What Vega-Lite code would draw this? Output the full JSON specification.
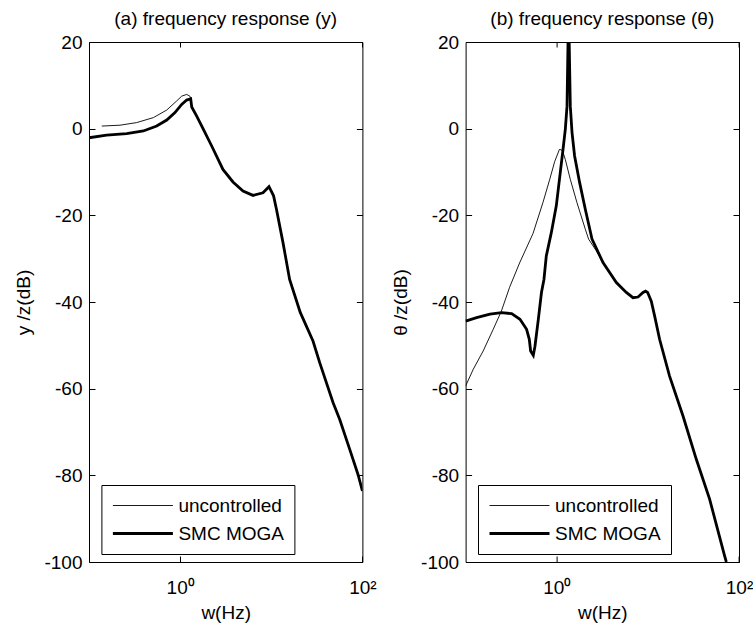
{
  "$schema": "https://vega.github.io/schema/vega-lite/v6.json",
  "padding": {"left": 14, "top": 9, "right": 0, "bottom": 0},
  "background": "white",
  "bounds": "flush",
  "spacing": 102.6,
  "config": {
    "font": "Liberation Sans",
    "view": {"stroke": "black", "strokeWidth": 1},
    "axis": {
      "grid": false,
      "domain": false,
      "labelFontSize": 19,
      "titleFontSize": 19,
      "labelColor": "black",
      "titleColor": "black",
      "titleFontWeight": "normal",
      "tickColor": "black",
      "tickWidth": 1,
      "tickSize": -6,
      "labelPadding": 13
    },
    "axisX": {"labelPadding": 22, "titlePadding": 6, "labelFlush": false},
    "axisY": {"titlePadding": 10},
    "title": {"fontSize": 19, "fontWeight": "normal", "color": "black", "offset": 4},
    "legend": {
      "orient": "none",
      "legendX": 12.4,
      "legendY": 443,
      "direction": "vertical",
      "symbolType": "M-3,0H3",
      "symbolSize": 400,
      "symbolOffset": 20,
      "symbolStrokeColor": "black",
      "labelFontSize": 19,
      "labelColor": "black",
      "labelOffset": 24,
      "labelLimit": 300,
      "strokeColor": "black",
      "fillColor": "white",
      "padding": 10,
      "rowPadding": 6
    }
  },
  "resolve": {"legend": {"strokeWidth": "independent"}, "scale": {"strokeWidth": "independent"}},
  "datasets": {
    "a": [
      {"series": "uncontrolled", "f": 0.138, "dB": 0.6},
      {"series": "uncontrolled", "f": 0.219, "dB": 0.8},
      {"series": "uncontrolled", "f": 0.333, "dB": 1.4},
      {"series": "uncontrolled", "f": 0.509, "dB": 2.55},
      {"series": "uncontrolled", "f": 0.713, "dB": 4.3},
      {"series": "uncontrolled", "f": 0.917, "dB": 6.4},
      {"series": "uncontrolled", "f": 1.04, "dB": 7.5},
      {"series": "uncontrolled", "f": 1.18, "dB": 7.9},
      {"series": "uncontrolled", "f": 1.28, "dB": 7.5},
      {"series": "uncontrolled", "f": 1.306, "dB": 6.9},
      {"series": "uncontrolled", "f": 1.34, "dB": 5.0},
      {"series": "uncontrolled", "f": 1.52, "dB": 2.9},
      {"series": "uncontrolled", "f": 1.8, "dB": -0.15},
      {"series": "uncontrolled", "f": 2.22, "dB": -4.0},
      {"series": "uncontrolled", "f": 2.95, "dB": -9.4},
      {"series": "uncontrolled", "f": 3.8, "dB": -12.3},
      {"series": "uncontrolled", "f": 4.9, "dB": -14.4},
      {"series": "uncontrolled", "f": 6.31, "dB": -15.4},
      {"series": "uncontrolled", "f": 8.11, "dB": -14.8},
      {"series": "uncontrolled", "f": 9.44, "dB": -13.4},
      {"series": "uncontrolled", "f": 10.6, "dB": -15.5},
      {"series": "uncontrolled", "f": 11.4, "dB": -18.6},
      {"series": "uncontrolled", "f": 13.45, "dB": -26.3},
      {"series": "uncontrolled", "f": 15.9, "dB": -34.8},
      {"series": "uncontrolled", "f": 20.8, "dB": -42.4},
      {"series": "uncontrolled", "f": 28.7, "dB": -49.0},
      {"series": "uncontrolled", "f": 34.0, "dB": -54.0},
      {"series": "uncontrolled", "f": 47.6, "dB": -63.2},
      {"series": "uncontrolled", "f": 56.4, "dB": -67.1},
      {"series": "uncontrolled", "f": 72.6, "dB": -74.0},
      {"series": "uncontrolled", "f": 89.5, "dB": -79.8},
      {"series": "uncontrolled", "f": 100, "dB": -83.6},
      {"series": "SMC MOGA", "f": 0.1, "dB": -2.1},
      {"series": "SMC MOGA", "f": 0.156, "dB": -1.5},
      {"series": "SMC MOGA", "f": 0.259, "dB": -1.15},
      {"series": "SMC MOGA", "f": 0.395, "dB": -0.54},
      {"series": "SMC MOGA", "f": 0.553, "dB": 0.6},
      {"series": "SMC MOGA", "f": 0.713, "dB": 2.0},
      {"series": "SMC MOGA", "f": 0.878, "dB": 3.7},
      {"series": "SMC MOGA", "f": 1.04, "dB": 5.6},
      {"series": "SMC MOGA", "f": 1.18, "dB": 6.6},
      {"series": "SMC MOGA", "f": 1.306, "dB": 6.9},
      {"series": "SMC MOGA", "f": 1.34, "dB": 5.0},
      {"series": "SMC MOGA", "f": 1.52, "dB": 2.9},
      {"series": "SMC MOGA", "f": 1.8, "dB": -0.15},
      {"series": "SMC MOGA", "f": 2.22, "dB": -4.0},
      {"series": "SMC MOGA", "f": 2.95, "dB": -9.4},
      {"series": "SMC MOGA", "f": 3.8, "dB": -12.3},
      {"series": "SMC MOGA", "f": 4.9, "dB": -14.4},
      {"series": "SMC MOGA", "f": 6.31, "dB": -15.4},
      {"series": "SMC MOGA", "f": 8.11, "dB": -14.8},
      {"series": "SMC MOGA", "f": 9.44, "dB": -13.4},
      {"series": "SMC MOGA", "f": 10.6, "dB": -15.5},
      {"series": "SMC MOGA", "f": 11.4, "dB": -18.6},
      {"series": "SMC MOGA", "f": 13.45, "dB": -26.3},
      {"series": "SMC MOGA", "f": 15.9, "dB": -34.8},
      {"series": "SMC MOGA", "f": 20.8, "dB": -42.4},
      {"series": "SMC MOGA", "f": 28.7, "dB": -49.0},
      {"series": "SMC MOGA", "f": 34.0, "dB": -54.0},
      {"series": "SMC MOGA", "f": 47.6, "dB": -63.2},
      {"series": "SMC MOGA", "f": 56.4, "dB": -67.1},
      {"series": "SMC MOGA", "f": 72.6, "dB": -74.0},
      {"series": "SMC MOGA", "f": 89.5, "dB": -79.8},
      {"series": "SMC MOGA", "f": 100, "dB": -83.6}
    ],
    "b": [
      {"series": "uncontrolled", "f": 0.1, "dB": -59.4},
      {"series": "uncontrolled", "f": 0.1215, "dB": -55.5},
      {"series": "uncontrolled", "f": 0.156, "dB": -51.3},
      {"series": "uncontrolled", "f": 0.201, "dB": -46.3},
      {"series": "uncontrolled", "f": 0.247, "dB": -42.1},
      {"series": "uncontrolled", "f": 0.304, "dB": -36.6},
      {"series": "uncontrolled", "f": 0.391, "dB": -31.0},
      {"series": "uncontrolled", "f": 0.549, "dB": -24.2},
      {"series": "uncontrolled", "f": 0.707, "dB": -17.0},
      {"series": "uncontrolled", "f": 0.835, "dB": -11.8},
      {"series": "uncontrolled", "f": 0.949, "dB": -7.6},
      {"series": "uncontrolled", "f": 1.07, "dB": -4.8},
      {"series": "uncontrolled", "f": 1.13, "dB": -4.9},
      {"series": "uncontrolled", "f": 1.16, "dB": -5.2},
      {"series": "uncontrolled", "f": 1.242, "dB": -7.1},
      {"series": "uncontrolled", "f": 1.409, "dB": -11.7},
      {"series": "uncontrolled", "f": 1.669, "dB": -17.1},
      {"series": "uncontrolled", "f": 2.058, "dB": -23.2},
      {"series": "uncontrolled", "f": 2.237, "dB": -25.5},
      {"series": "uncontrolled", "f": 2.7, "dB": -28.1},
      {"series": "uncontrolled", "f": 3.22, "dB": -30.9},
      {"series": "uncontrolled", "f": 4.51, "dB": -35.5},
      {"series": "uncontrolled", "f": 5.8, "dB": -37.8},
      {"series": "uncontrolled", "f": 6.87, "dB": -39.0},
      {"series": "uncontrolled", "f": 7.8, "dB": -38.85},
      {"series": "uncontrolled", "f": 8.85, "dB": -37.8},
      {"series": "uncontrolled", "f": 9.44, "dB": -37.5},
      {"series": "uncontrolled", "f": 9.94, "dB": -37.8},
      {"series": "uncontrolled", "f": 10.9, "dB": -39.8},
      {"series": "uncontrolled", "f": 11.86, "dB": -43.2},
      {"series": "uncontrolled", "f": 13.45, "dB": -48.6},
      {"series": "uncontrolled", "f": 17.3, "dB": -57.1},
      {"series": "uncontrolled", "f": 24.3, "dB": -66.3},
      {"series": "uncontrolled", "f": 34.0, "dB": -76.3},
      {"series": "uncontrolled", "f": 47.6, "dB": -85.5},
      {"series": "uncontrolled", "f": 69.5, "dB": -98.6},
      {"series": "uncontrolled", "f": 72.6, "dB": -100},
      {"series": "SMC MOGA", "f": 0.1, "dB": -44.4},
      {"series": "SMC MOGA", "f": 0.132, "dB": -43.6},
      {"series": "SMC MOGA", "f": 0.185, "dB": -42.8},
      {"series": "SMC MOGA", "f": 0.248, "dB": -42.45},
      {"series": "SMC MOGA", "f": 0.32, "dB": -42.7},
      {"series": "SMC MOGA", "f": 0.395, "dB": -44.0},
      {"series": "SMC MOGA", "f": 0.467, "dB": -46.3},
      {"series": "SMC MOGA", "f": 0.5, "dB": -48.6},
      {"series": "SMC MOGA", "f": 0.517, "dB": -51.3},
      {"series": "SMC MOGA", "f": 0.553, "dB": -52.3},
      {"series": "SMC MOGA", "f": 0.577, "dB": -50.2},
      {"series": "SMC MOGA", "f": 0.628, "dB": -44.0},
      {"series": "SMC MOGA", "f": 0.68, "dB": -37.8},
      {"series": "SMC MOGA", "f": 0.724, "dB": -34.8},
      {"series": "SMC MOGA", "f": 0.768, "dB": -29.4},
      {"series": "SMC MOGA", "f": 0.872, "dB": -24.0},
      {"series": "SMC MOGA", "f": 0.989, "dB": -17.8},
      {"series": "SMC MOGA", "f": 1.094, "dB": -10.1},
      {"series": "SMC MOGA", "f": 1.172, "dB": -4.8},
      {"series": "SMC MOGA", "f": 1.242, "dB": -0.15},
      {"series": "SMC MOGA", "f": 1.297, "dB": 5.2},
      {"series": "SMC MOGA", "f": 1.33, "dB": 20},
      {"series": "SMC MOGA", "f": 1.37, "dB": 20},
      {"series": "SMC MOGA", "f": 1.409, "dB": 5.2},
      {"series": "SMC MOGA", "f": 1.472, "dB": -0.9},
      {"series": "SMC MOGA", "f": 1.571, "dB": -6.3},
      {"series": "SMC MOGA", "f": 1.782, "dB": -12.4},
      {"series": "SMC MOGA", "f": 2.058, "dB": -18.6},
      {"series": "SMC MOGA", "f": 2.438, "dB": -25.5},
      {"series": "SMC MOGA", "f": 3.22, "dB": -30.9},
      {"series": "SMC MOGA", "f": 4.51, "dB": -35.5},
      {"series": "SMC MOGA", "f": 5.8, "dB": -37.8},
      {"series": "SMC MOGA", "f": 6.87, "dB": -39.0},
      {"series": "SMC MOGA", "f": 7.8, "dB": -38.85},
      {"series": "SMC MOGA", "f": 8.85, "dB": -37.8},
      {"series": "SMC MOGA", "f": 9.44, "dB": -37.5},
      {"series": "SMC MOGA", "f": 9.94, "dB": -37.8},
      {"series": "SMC MOGA", "f": 10.9, "dB": -39.8},
      {"series": "SMC MOGA", "f": 11.86, "dB": -43.2},
      {"series": "SMC MOGA", "f": 13.45, "dB": -48.6},
      {"series": "SMC MOGA", "f": 17.3, "dB": -57.1},
      {"series": "SMC MOGA", "f": 24.3, "dB": -66.3},
      {"series": "SMC MOGA", "f": 34.0, "dB": -76.3},
      {"series": "SMC MOGA", "f": 47.6, "dB": -85.5},
      {"series": "SMC MOGA", "f": 69.5, "dB": -98.6},
      {"series": "SMC MOGA", "f": 72.6, "dB": -100}
    ]
  },
  "hconcat": [
    {
      "width": 273.4,
      "height": 520,
      "title": "(a) frequency response (y)",
      "data": {"name": "a"},
      "layer": [
        {
          "mark": {"type": "line", "clip": true, "color": "black"},
          "encoding": {
            "x": {"field": "f", "type": "quantitative", "scale": {"type": "log", "domain": [0.1, 100]},
                  "axis": {"values": [1, 100], "labelExpr": "datum.value == 1 ? '10⁰' : '10²'", "title": "w(Hz)"}},
            "y": {"field": "dB", "type": "quantitative", "scale": {"domain": [-100, 20]},
                  "axis": {"values": [-100, -80, -60, -40, -20, 0, 20], "labelExpr": "'' + datum.value", "title": "y /z(dB)"}},
            "strokeWidth": {"field": "series", "type": "ordinal", "scale": {"domain": ["uncontrolled", "SMC MOGA"], "range": [0.9, 2.8]},
                  "legend": {"title": null}}
          }
        },
        {
          "mark": {"type": "point", "opacity": 0},
          "encoding": {
            "x": {"field": "f", "type": "quantitative", "scale": {"type": "log", "domain": [0.1, 100]},
                  "axis": {"orient": "top", "values": [1, 100], "labels": false, "title": null, "tickSize": -5}},
            "y": {"field": "dB", "type": "quantitative", "scale": {"domain": [-100, 20]},
                  "axis": {"orient": "right", "values": [-100, -80, -60, -40, -20, 0, 20], "labels": false, "title": null}}
          }
        }
      ],
      "resolve": {"axis": {"x": "independent", "y": "independent"}}
    },
    {
      "width": 273.4,
      "height": 520,
      "title": "(b) frequency response (θ)",
      "data": {"name": "b"},
      "layer": [
        {
          "mark": {"type": "line", "clip": true, "color": "black"},
          "encoding": {
            "x": {"field": "f", "type": "quantitative", "scale": {"type": "log", "domain": [0.1, 100]},
                  "axis": {"values": [1, 100], "labelExpr": "datum.value == 1 ? '10⁰' : '10²'", "title": "w(Hz)"}},
            "y": {"field": "dB", "type": "quantitative", "scale": {"domain": [-100, 20]},
                  "axis": {"values": [-100, -80, -60, -40, -20, 0, 20], "labelExpr": "'' + datum.value", "title": "θ /z(dB)"}},
            "strokeWidth": {"field": "series", "type": "ordinal", "scale": {"domain": ["uncontrolled", "SMC MOGA"], "range": [0.9, 2.8]},
                  "legend": {"title": null}}
          }
        },
        {
          "mark": {"type": "point", "opacity": 0},
          "encoding": {
            "x": {"field": "f", "type": "quantitative", "scale": {"type": "log", "domain": [0.1, 100]},
                  "axis": {"orient": "top", "values": [1, 100], "labels": false, "title": null, "tickSize": -5}},
            "y": {"field": "dB", "type": "quantitative", "scale": {"domain": [-100, 20]},
                  "axis": {"orient": "right", "values": [-100, -80, -60, -40, -20, 0, 20], "labels": false, "title": null}}
          }
        }
      ],
      "resolve": {"axis": {"x": "independent", "y": "independent"}}
    }
  ]
}
